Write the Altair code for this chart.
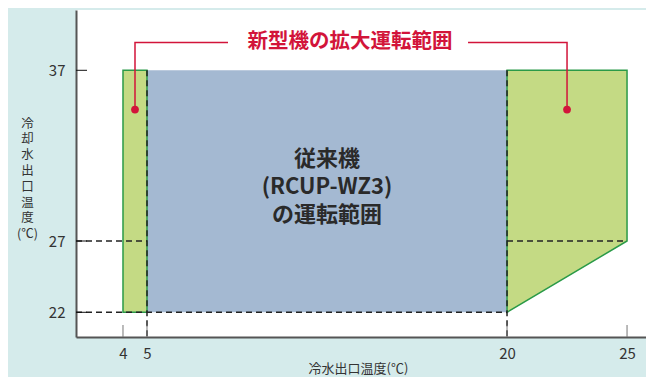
import altair as alt
import pandas as pd

FONT = "Noto Sans CJK JP"
TEAL = "#d5ebeb"
BLUE = "#a4b9d2"
GREEN = "#c4da84"
GREEN_STROKE = "#2a9a48"
RED = "#d2143a"

# axis values
x_ticks = [4, 5, 20, 25]
y_ticks = [22, 27, 37]
X_MIN, X_MAX = 2.042, 25.79
Y_DOMAIN = [20.24, 22, 27, 37, 40.53]
Y_RANGE = [327, 302.3, 231, 60.3, 0]

# operating ranges
old_x = [5, 20]
old_y = [22, 37]
new_left_x = [4, 5]
new_left_y = [22, 37]
new_right_x = [20, 25]
new_right_top = [37, 37]
new_right_bottom = [22, 27]

# annotation
ann_left_x = [4.5, 4.5, 8.375]
ann_left_y = [34.7, 38.63, 38.63]
ann_right_x = [18.375, 22.5, 22.5]
ann_right_y = [38.63, 38.63, 34.7]
ann_text = "新型機の拡大運転範囲"
ann_text_x = 13.46
old_text = "従来機\n(RCUP-WZ3)\nの運転範囲"
old_text_xy = (12.5, 31.8)

xs = alt.Scale(domain=[X_MIN, X_MAX], nice=False, zero=False)
ys = alt.Scale(domain=Y_DOMAIN, range=Y_RANGE, nice=False, zero=False)

xax = alt.Axis(values=x_ticks, ticks=False, grid=False, domainColor="#555", domainWidth=2,
               labelFont=FONT, labelFontSize=15, labelColor="#333", labelPadding=9,
               title="冷水出口温度(℃)", titleFont=FONT, titleFontSize=13, titleFontWeight="normal",
               titleColor="#333", titleX=282, titleY=31, titleAnchor="middle", titleBaseline="middle")
yax = alt.Axis(values=y_ticks, ticks=False, grid=False, domainColor="#555", domainWidth=2,
               labelFont=FONT, labelFontSize=15, labelColor="#333", labelPadding=11,
               title=["冷", "却", "水", "出", "口", "温", "度", "(℃)"], titleFont=FONT, titleFontSize=12.5,
               titleFontWeight="normal", titleColor="#333", titleAngle=0, titleX=-49, titleY=107,
               titleAlign="center", titleBaseline="top", titleLineHeight=15.8)

old_df = pd.DataFrame({"x": [old_x[0]], "x2": [old_x[1]], "y": [old_y[0]], "y2": [old_y[1]]})
left_df = pd.DataFrame({"x": [new_left_x[0]], "x2": [new_left_x[1]], "y": [new_left_y[0]], "y2": [new_left_y[1]]})
right_df = pd.DataFrame({"x": new_right_x, "top": new_right_top, "bottom": new_right_bottom})

base_old = alt.Chart(old_df).mark_rect(fill=BLUE).encode(
    x=alt.X("x:Q", scale=xs, axis=xax), x2="x2:Q",
    y=alt.Y("y:Q", scale=ys, axis=yax), y2="y2:Q")
left = alt.Chart(left_df).mark_rect(fill=GREEN, stroke=GREEN_STROKE, strokeWidth=1.5).encode(
    x=alt.X("x:Q", scale=xs), x2="x2:Q", y=alt.Y("y:Q", scale=ys), y2="y2:Q")
right = alt.Chart(right_df).mark_area(fill=GREEN, stroke=GREEN_STROKE, strokeWidth=1.5, opacity=1).encode(
    x=alt.X("x:Q", scale=xs), y=alt.Y("top:Q", scale=ys), y2="bottom:Q")

# dashed guides
h_df = pd.DataFrame({"x": [X_MIN, X_MIN, 20], "x2": [5, 20, 25], "y": [27, 22, 27]})
v_df = pd.DataFrame({"x": [5, 20], "y": [37, 37], "y2": [Y_DOMAIN[0], Y_DOMAIN[0]]})
hd = alt.Chart(h_df).mark_rule(color="#222", strokeDash=[6, 4], strokeWidth=1.5).encode(
    x=alt.X("x:Q", scale=xs), x2="x2:Q", y=alt.Y("y:Q", scale=ys))
vd = alt.Chart(v_df).mark_rule(color="#222", strokeDash=[6, 4], strokeWidth=1.5).encode(
    x=alt.X("x:Q", scale=xs), y=alt.Y("y:Q", scale=ys), y2="y2:Q")

# inward ticks
yt = alt.Chart(pd.DataFrame({"v": y_ticks})).mark_rule(color="#111", strokeWidth=1).encode(
    x=alt.value(0), x2=alt.value(11), y=alt.Y("v:Q", scale=ys))
xt = alt.Chart(pd.DataFrame({"v": x_ticks})).mark_rule(color="#777", strokeWidth=1).encode(
    x=alt.X("v:Q", scale=xs), y=alt.value(315), y2=alt.value(327))

# annotation
ann_df = pd.DataFrame({
    "x": ann_left_x + ann_right_x,
    "y": ann_left_y + ann_right_y,
    "g": ["l"] * 3 + ["r"] * 3,
    "o": [0, 1, 2, 0, 1, 2],
})
ann_line = alt.Chart(ann_df).mark_line(color=RED, strokeWidth=1.5).encode(
    x=alt.X("x:Q", scale=xs), y=alt.Y("y:Q", scale=ys), detail="g:N", order="o:Q")
dots_df = pd.DataFrame({"x": [ann_left_x[0], ann_right_x[-1]], "y": [ann_left_y[0], ann_right_y[-1]]})
dots = alt.Chart(dots_df).mark_circle(color=RED, size=60, opacity=1).encode(
    x=alt.X("x:Q", scale=xs), y=alt.Y("y:Q", scale=ys))
ann_t = alt.Chart(pd.DataFrame({"x": [ann_text_x], "y": [ann_left_y[1]], "t": [ann_text]})).mark_text(
    font=FONT, fontSize=20.5, fontWeight="bold", color=RED, align="center", baseline="middle").encode(
    x=alt.X("x:Q", scale=xs), y=alt.Y("y:Q", scale=ys), text="t:N")
old_t = alt.Chart(pd.DataFrame({"x": [old_text_xy[0]], "y": [old_text_xy[1]], "t": [old_text]})).mark_text(
    font=FONT, fontSize=22, fontWeight="bold", color="#2a2a2a", align="center", baseline="middle",
    lineBreak="\n", lineHeight=28).encode(
    x=alt.X("x:Q", scale=xs), y=alt.Y("y:Q", scale=ys), text="t:N")

chart = alt.layer(base_old, left, right, hd, vd, yt, xt, ann_line, dots, ann_t, old_t).properties(
    width=570, height=327, background=TEAL,
    autosize=alt.AutoSizeParams(type="none"),
    padding={"left": 68, "top": 2, "right": 0, "bottom": 40},
).configure_view(fill="white", stroke=None)

chart.save("out.html", embed_options={"renderer": "svg", "actions": False})
